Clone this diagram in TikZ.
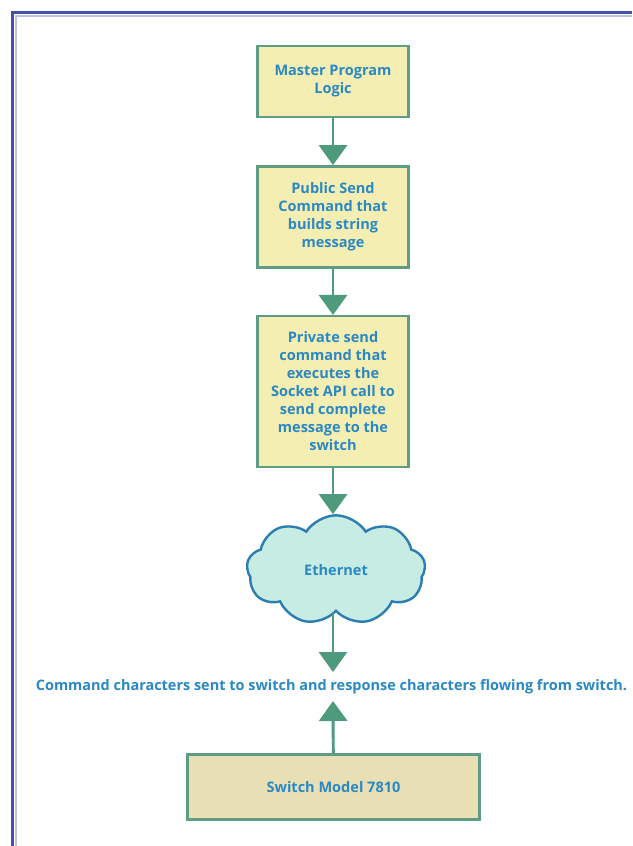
\documentclass[tikz,border=0pt]{standalone}
\usepackage{fontspec}
\setmainfont{Open Sans}
\usetikzlibrary{arrows.meta,shapes.symbols}
\definecolor{boxfill}{HTML}{F4EEB2}
\definecolor{boxfilltwo}{HTML}{E8E0B4}
\definecolor{boxline}{HTML}{5E9C84}
\definecolor{arrowcol}{HTML}{4E9A7C}
\definecolor{txtcol}{HTML}{2A88C4}
\definecolor{cloudfill}{HTML}{C6ECE4}
\definecolor{cloudline}{HTML}{2C7EB2}
\definecolor{framecol}{HTML}{4450B0}
\tikzset{
  px/.style={x=0.75pt,y=-0.75pt},
  procbox/.style={draw=boxline,line width=1.8pt,fill=boxfill,align=center,
    text=txtcol,font=\fontsize{10.9}{13.5}\selectfont\bfseries,
    minimum width=113pt,inner sep=0pt},
  flow/.style={draw=arrowcol,line width=2.2pt,-{Triangle[width=21pt,length=15pt]}},
}
\begin{document}
\begin{tikzpicture}[px]
\useasboundingbox (0,0) rectangle (632,846);
\fill[white] (0,0) rectangle (632,846);
\draw[framecol!35,line width=1.5pt] (15.5,846) -- (15.5,15.5) -- (632,15.5);
\draw[framecol,line width=2.2pt] (12.5,846) -- (12.5,12.5) -- (632,12.5);
\node[procbox,minimum height=53pt] (b1) at (333,81.5) {Master Program\\Logic};
\node[procbox,minimum height=76pt] (b2) at (333,217) {Public Send\\Command that\\builds string\\message};
\node[procbox,minimum height=113pt] (b3) at (333,391.5) {Private send\\command that\\executes the\\Socket API call to\\send complete\\message to the\\switch};
\node[cloud,cloud puffs=9,cloud puff arc=115,aspect=1.9,draw=cloudline,line width=1.8pt,
  fill=cloudfill,minimum width=134pt,minimum height=82pt,inner sep=0pt,
  text=txtcol,font=\fontsize{10.9}{13.5}\selectfont\bfseries] (cl) at (336,570) {Ethernet};
\node[text=txtcol,font=\fontsize{10.85}{14}\selectfont\bfseries,inner sep=0pt] (msg) at (331.5,687)
  {Command characters sent to switch and response characters flowing from switch.};
\node[procbox,fill=boxfilltwo,minimum width=219pt,minimum height=49pt] (b4) at (333.5,787) {Switch Model 7810};
\coordinate (tipa) at (333,672);
\coordinate (tipb) at (333,701);
\draw[flow] (b1) -- (b2);
\draw[flow] (b2) -- (b3);
\draw[flow] (b3.south) -- (b3.south |- cl.north);
\draw[flow] (cl.south -| tipa) -- (tipa);
\draw[flow] (b4) -- (tipb);
\end{tikzpicture}
\end{document}
